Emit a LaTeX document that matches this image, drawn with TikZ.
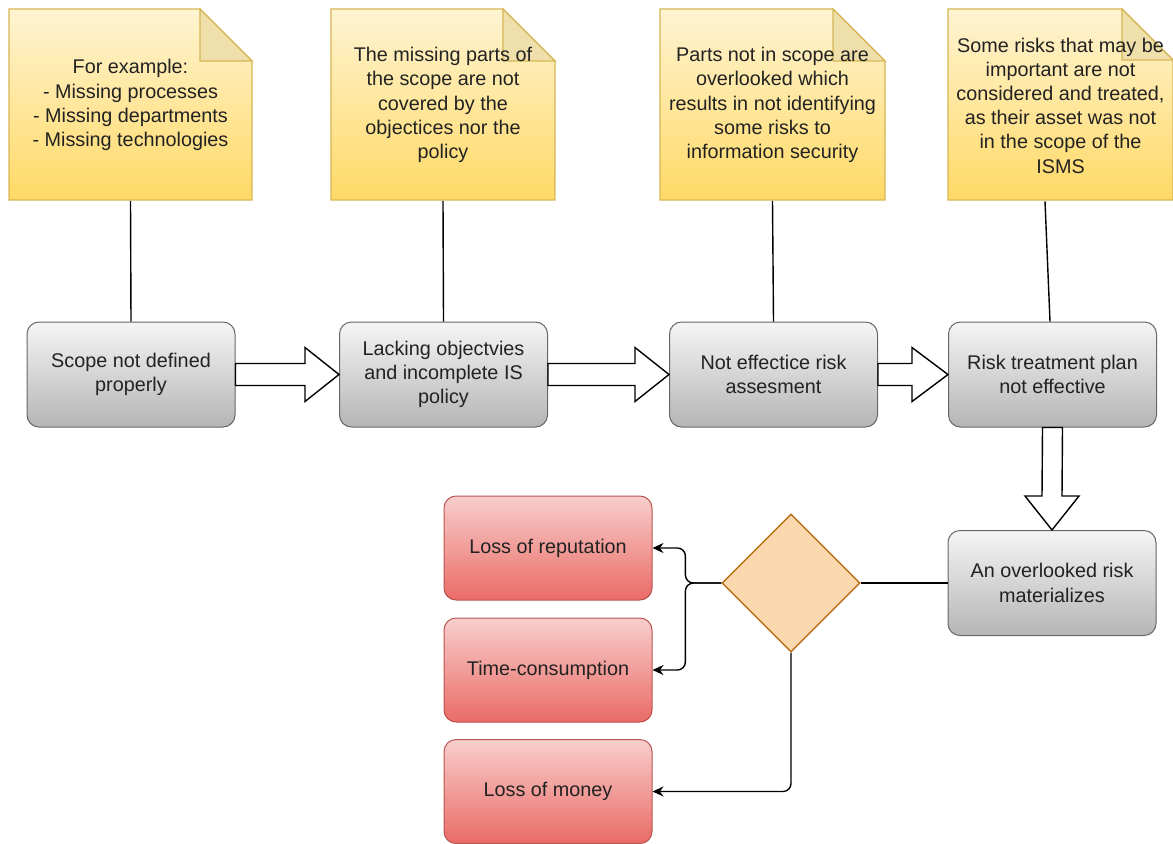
\documentclass[tikz,border=0pt]{standalone}
\usepackage{fontspec}
\setmainfont{Liberation Sans}
\usetikzlibrary{shapes.geometric,calc,arrows.meta}

\newlength{\du}
\setlength{\du}{0.5pt}

\definecolor{notetop}{HTML}{FFF4D2}
\definecolor{notebottom}{HTML}{FFD966}
\definecolor{noteline}{HTML}{D6B656}
\definecolor{notefold}{HTML}{EFDFAA}
\definecolor{graytop}{HTML}{F5F5F5}
\definecolor{graybottom}{HTML}{B5B5B5}
\definecolor{grayline}{HTML}{666666}
\definecolor{redtop}{HTML}{F8CECC}
\definecolor{redbottom}{HTML}{EA6B66}
\definecolor{redline}{HTML}{B85450}
\definecolor{diafill}{HTML}{FAD7AC}
\definecolor{dialine}{HTML}{B46504}
\definecolor{textcol}{HTML}{222222}

\tikzset{
  notefill/.style={top color=notetop, bottom color=notebottom, draw=noteline, line width=0.6pt},
  notecorner/.style={fill=notefold, draw=noteline, line width=0.6pt},
  notetext/.style={align=center, text=textcol, inner sep=0pt, minimum height=191\du},
  graybox/.style={draw=grayline, line width=0.5pt, rounded corners=12\du, top color=graytop, bottom color=graybottom,
    align=center, text=textcol, minimum width=208\du, minimum height=105\du},
  redbox/.style={draw=redline, line width=0.5pt, rounded corners=12\du, top color=redtop, bottom color=redbottom,
    align=center, text=textcol, minimum width=208\du, minimum height=104\du},
  decision/.style={diamond, draw=dialine, fill=diafill, line width=0.6pt, inner sep=0pt, minimum width=138\du, minimum height=138\du},
  blockarrow/.style={draw=black, fill=white, line width=0.7pt, line join=miter},
  plain/.style={draw=black, line width=0.7pt},
  link/.style={plain, -{Stealth[length=5.5pt,width=5pt]}, rounded corners=8\du},
}

\begin{document}
\begin{tikzpicture}[x=\du, y=-\du, font=\fontsize{9.9}{12.1}\selectfont]
\useasboundingbox (0,0) rectangle (1173,843);

% notes
\path[notefill] (9,9) -- (200,9) -- (252,61) -- (252,200) -- (9,200) -- cycle;
\path[notecorner] (200,9) -- (200,61) -- (252,61) -- cycle;
\node[notetext, minimum width=243\du] (n1) at (130.5,105) {For example:\\- Missing processes\\- Missing departments\\- Missing technologies};

\path[notefill] (331,9) -- (503,9) -- (555,61) -- (555,200) -- (331,200) -- cycle;
\path[notecorner] (503,9) -- (503,61) -- (555,61) -- cycle;
\node[notetext, minimum width=224\du] (n2) at (443,105) {The missing parts of\\the scope are not\\covered by the\\objectices nor the\\policy};

\path[notefill] (660,9) -- (833,9) -- (885,61) -- (885,200) -- (660,200) -- cycle;
\path[notecorner] (833,9) -- (833,61) -- (885,61) -- cycle;
\node[notetext, minimum width=225\du] (n3) at (772.5,105) {Parts not in scope are\\overlooked which\\results in not identifying\\some risks to\\information security};

\path[notefill] (948,9) -- (1122,9) -- (1173,60) -- (1173,200) -- (948,200) -- cycle;
\path[notecorner] (1122,9) -- (1122,60) -- (1173,60) -- cycle;
\node[notetext, minimum width=225\du] (n4) at (1060.5,105.5) {Some risks that may be\\important are not\\considered and treated,\\as their asset was not\\in the scope of the\\ISMS};

% main chain
\node[graybox] (b1) at (131,374.5) {Scope not defined\\properly};
\node[graybox] (b2) at (443.5,374.5) {Lacking objectvies\\and incomplete IS\\policy};
\node[graybox] (b3) at (773.5,374.5) {Not effectice risk\\assesment};
\node[graybox] (b4) at (1052.5,374.5) {Risk treatment plan\\not effective};
\node[graybox] (b5) at (1052,583) {An overlooked risk\\materializes};

% consequences
\node[decision] (dia) at (791,583) {};
\node[redbox] (r1) at (548,548) {Loss of reputation};
\node[redbox] (r2) at (548,670) {Time-consumption};
\node[redbox] (r3) at (548,791.5) {Loss of money};

\draw[plain] (n1.south) -- (b1.north);
\draw[plain] (n2.south) -- (b2.north);
\draw[plain] (n3.south) -- (b3.north);
\draw[plain] ($(n4.south)+(-15.5,0)$) -- ($(b4.north)+(-2.5,0)$);

\draw[blockarrow] ($(b1.east)+(0,-11)$) -- ($(b2.west)+(-34,-11)$) -- ($(b2.west)+(-34,-27)$) -- (b2.west)
  -- ($(b2.west)+(-34,27)$) -- ($(b2.west)+(-34,11)$) -- ($(b1.east)+(0,11)$) -- cycle;
\draw[blockarrow] ($(b2.east)+(0,-11)$) -- ($(b3.west)+(-34,-11)$) -- ($(b3.west)+(-34,-27)$) -- (b3.west)
  -- ($(b3.west)+(-34,27)$) -- ($(b3.west)+(-34,11)$) -- ($(b2.east)+(0,11)$) -- cycle;
\draw[blockarrow] ($(b3.east)+(0,-11)$) -- ($(b4.west)+(-36,-11)$) -- ($(b4.west)+(-36,-27)$) -- (b4.west)
  -- ($(b4.west)+(-36,27)$) -- ($(b4.west)+(-36,11)$) -- ($(b3.east)+(0,11)$) -- cycle;
\draw[blockarrow] ($(b4.south)+(-10,0)$) -- ($(b5.north)+(-10,-34)$) -- ($(b5.north)+(-27,-34)$) -- (b5.north)
  -- ($(b5.north)+(27,-34)$) -- ($(b5.north)+(10,-34)$) -- ($(b4.south)+(10,0)$) -- cycle;

\draw[plain] (dia.east) -- (b5.west);
\draw[link] (dia.west) -- ++(-36,0) |- (r1.east);
\draw[link] (dia.west) -- ++(-36,0) |- (r2.east);
\draw[link] (dia.south) |- (r3.east);
\end{tikzpicture}
\end{document}
